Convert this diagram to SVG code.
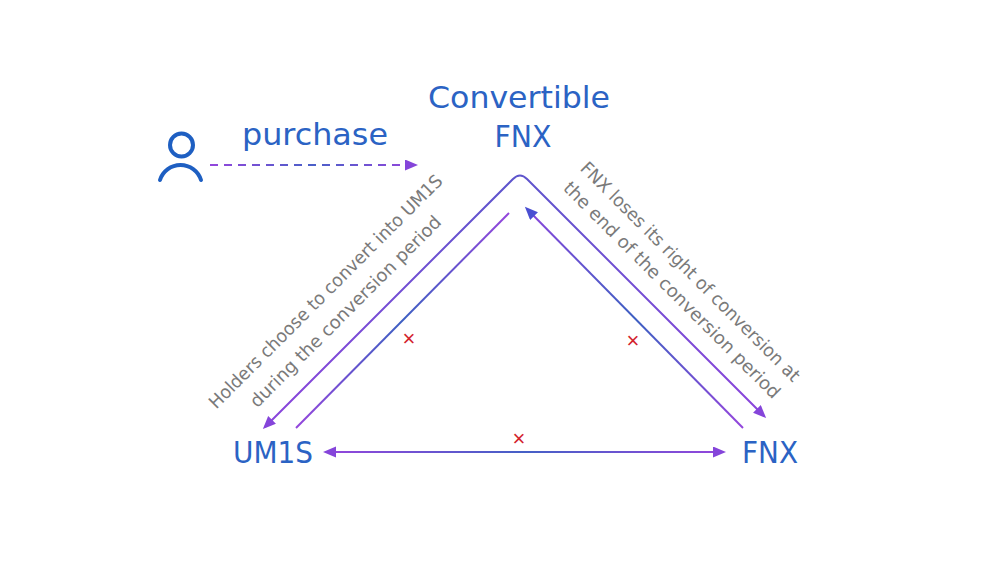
<svg xmlns="http://www.w3.org/2000/svg" width="1005" height="566" viewBox="0 0 1005 566">
<style>
.node{font-family:"DejaVu Sans","Liberation Sans",sans-serif;fill:#2b63c4;font-size:30px;text-anchor:middle}
.lbl{font-family:"DejaVu Sans","Liberation Sans",sans-serif;fill:#7a7a7a;font-size:18px;text-anchor:middle}
.x{font-family:"Liberation Sans",sans-serif;fill:#d3242c;font-size:22px;text-anchor:middle}
.ln{fill:none;stroke-width:2}
</style>
<defs>
<marker id="ap" markerUnits="userSpaceOnUse" markerWidth="14" markerHeight="12" refX="10" refY="5.5" orient="auto-start-reverse"><path d="M0,0 L13,5.5 L0,11 z" fill="#8545da"/></marker>
<marker id="ab" markerUnits="userSpaceOnUse" markerWidth="14" markerHeight="12" refX="10" refY="5.5" orient="auto-start-reverse"><path d="M0,0 L13,5.5 L0,11 z" fill="#4a4fd2"/></marker>
<linearGradient id="gOuter" gradientUnits="userSpaceOnUse" x1="263" y1="0" x2="766" y2="0"><stop offset="0" stop-color="#8c45dc"/><stop offset="0.5" stop-color="#5d55cc"/><stop offset="1" stop-color="#8c45dc"/></linearGradient>
<linearGradient id="gIL" gradientUnits="userSpaceOnUse" x1="296" y1="428" x2="509" y2="213"><stop offset="0" stop-color="#9446dc"/><stop offset="0.5" stop-color="#3d5fc2"/><stop offset="1" stop-color="#9446dc"/></linearGradient>
<linearGradient id="gIR" gradientUnits="userSpaceOnUse" x1="743" y1="428" x2="527" y2="209"><stop offset="0" stop-color="#9446dc"/><stop offset="0.5" stop-color="#3d5fc2"/><stop offset="1" stop-color="#8a46dc"/></linearGradient>
<linearGradient id="gB" gradientUnits="userSpaceOnUse" x1="326" y1="0" x2="723" y2="0"><stop offset="0" stop-color="#9446dc"/><stop offset="0.5" stop-color="#4560c6"/><stop offset="1" stop-color="#9446dc"/></linearGradient>
<linearGradient id="gD" gradientUnits="userSpaceOnUse" x1="210" y1="0" x2="415" y2="0"><stop offset="0" stop-color="#9446dc"/><stop offset="0.5" stop-color="#4a60c8"/><stop offset="1" stop-color="#9446dc"/></linearGradient>
</defs>
<rect width="1005" height="566" fill="#ffffff"/>

<g id="connectors">
<path class="ln" stroke="url(#gOuter)" d="M265,427 L513,179 Q520,172 527,179 L764,416" marker-start="url(#ap)" marker-end="url(#ap)"/>
<line class="ln" stroke="url(#gIL)" x1="296" y1="428" x2="509" y2="213"/>
<line class="ln" stroke="url(#gIR)" x1="743" y1="428" x2="527" y2="209" marker-end="url(#ab)"/>
<line class="ln" stroke="url(#gB)" x1="326" y1="452" x2="723" y2="452" marker-start="url(#ap)" marker-end="url(#ap)"/>
<line class="ln" stroke="url(#gD)" stroke-dasharray="8,6" x1="210" y1="165" x2="415" y2="165" marker-end="url(#ap)"/>
<text class="x" x="409" y="346">×</text>
<text class="x" x="633" y="348">×</text>
<text class="x" x="519" y="446">×</text>
<g transform="translate(330,296) rotate(-45)">
<text class="lbl" x="0" y="0" textLength="322" lengthAdjust="spacingAndGlyphs">Holders choose to convert into UM1S</text>
<text class="lbl" x="0" y="28" textLength="262" lengthAdjust="spacingAndGlyphs">during the conversion period</text>
</g>
<g transform="translate(686,276) rotate(45)">
<text class="lbl" x="0" y="0" textLength="302" lengthAdjust="spacingAndGlyphs">FNX loses its right of conversion at</text>
<text class="lbl" x="0" y="26" textLength="298" lengthAdjust="spacingAndGlyphs">the end of the conversion period</text>
</g>
<text class="node" x="315" y="145" textLength="146" lengthAdjust="spacingAndGlyphs">purchase</text>
</g>

<g id="person">
<circle cx="181.5" cy="145" r="11.5" fill="none" stroke="#1e5fc2" stroke-width="4"/>
<path d="M160,180 A21.5,21.5 0 0 1 201,180" fill="none" stroke="#1e5fc2" stroke-width="4" stroke-linecap="round"/>
</g>

<g id="convertible-fnx">
<text class="node" x="519" y="108" textLength="182" lengthAdjust="spacingAndGlyphs">Convertible</text>
<text class="node" x="523" y="147" textLength="57" lengthAdjust="spacingAndGlyphs">FNX</text>
</g>

<g id="um1s">
<text class="node" x="273" y="463" font-size="31" textLength="80" lengthAdjust="spacingAndGlyphs">UM1S</text>
</g>

<g id="fnx">
<text class="node" x="770" y="463" font-size="31" textLength="56" lengthAdjust="spacingAndGlyphs">FNX</text>
</g>
</svg>
